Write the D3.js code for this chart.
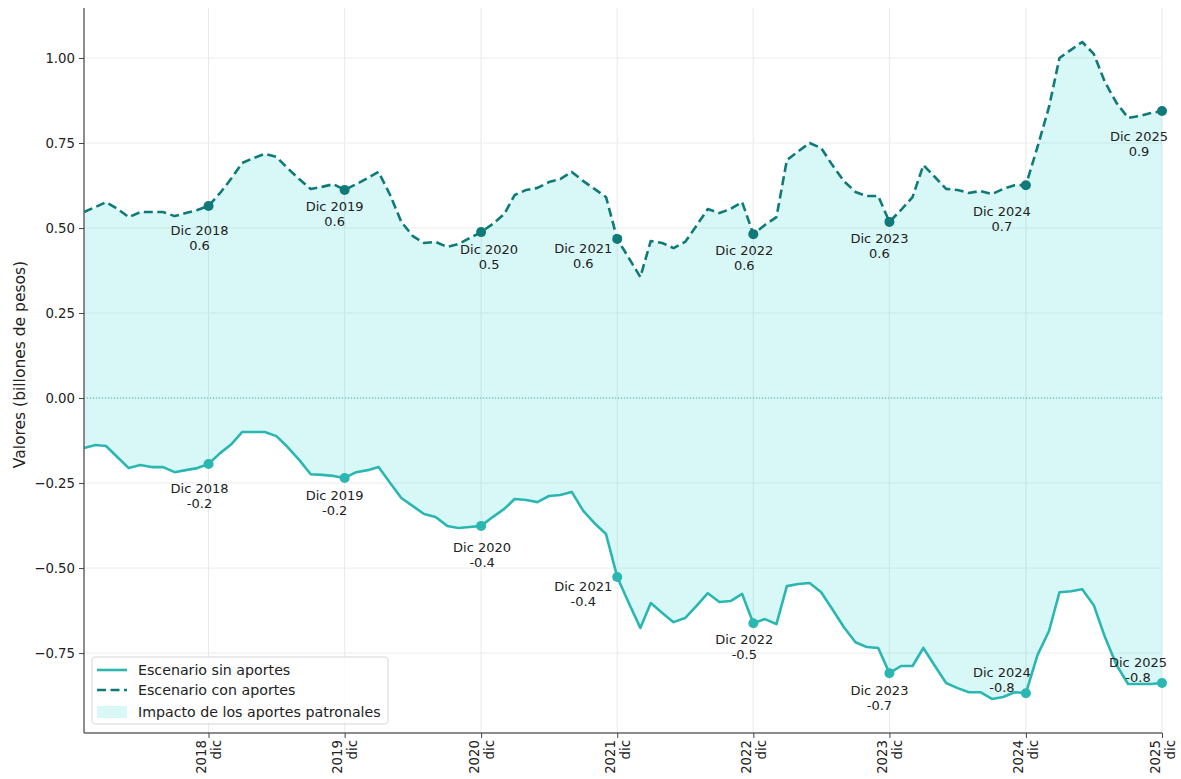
<!DOCTYPE html>
<html>
<head>
<meta charset="utf-8">
<script src="https://cdn.jsdelivr.net/npm/d3@7"></script>
<style>
  html, body { margin: 0; padding: 0; background: #ffffff; }
  svg { display: block; font-family: "DejaVu Sans", sans-serif; }
</style>
</head>
<body>
<svg id="chart" width="1181" height="779"></svg>
<script>
// ---------------- DATA ----------------
const startMonth = new Date(2018, 0, 1);
const endMonth = new Date(2025, 11, 1);
const months = d3.timeMonth.range(startMonth, d3.timeMonth.offset(endMonth, 1)); // Jan 2018 .. Dec 2025

const conAportes = [
  0.547, 0.562, 0.576, 0.556, 0.532, 0.547, 0.547, 0.547, 0.535, 0.544, 0.553, 0.565,
  0.603, 0.647, 0.691, 0.706, 0.718, 0.709, 0.676, 0.644, 0.615, 0.621, 0.629, 0.612,
  0.629, 0.647, 0.665, 0.597, 0.518, 0.476, 0.456, 0.459, 0.444, 0.453, 0.471, 0.488,
  0.512, 0.541, 0.597, 0.612, 0.618, 0.635, 0.644, 0.665, 0.638, 0.615, 0.591, 0.468,
  0.412, 0.356, 0.462, 0.456, 0.441, 0.459, 0.506, 0.556, 0.544, 0.556, 0.576, 0.482,
  0.509, 0.532, 0.700, 0.726, 0.750, 0.735, 0.685, 0.638, 0.606, 0.594, 0.594, 0.518,
  0.553, 0.591, 0.685, 0.650, 0.615, 0.612, 0.603, 0.609, 0.600, 0.615, 0.626, 0.626,
  0.738, 0.856, 1.000, 1.024, 1.047, 1.012, 0.929, 0.868, 0.824, 0.829, 0.838, 0.844
];

const sinAportes = [
  -0.147, -0.138, -0.141, -0.174, -0.206, -0.197, -0.203, -0.203, -0.218, -0.212, -0.206, -0.194,
  -0.162, -0.135, -0.100, -0.100, -0.100, -0.112, -0.144, -0.182, -0.224, -0.226, -0.229, -0.235,
  -0.218, -0.212, -0.203, -0.250, -0.294, -0.318, -0.341, -0.350, -0.376, -0.382, -0.379, -0.376,
  -0.350, -0.326, -0.297, -0.300, -0.306, -0.288, -0.285, -0.276, -0.332, -0.368, -0.400, -0.526,
  -0.603, -0.676, -0.603, -0.632, -0.659, -0.647, -0.612, -0.574, -0.600, -0.597, -0.576, -0.662,
  -0.650, -0.665, -0.553, -0.547, -0.544, -0.571, -0.621, -0.674, -0.718, -0.732, -0.735, -0.809,
  -0.788, -0.788, -0.735, -0.788, -0.838, -0.853, -0.865, -0.865, -0.885, -0.879, -0.865, -0.868,
  -0.756, -0.685, -0.571, -0.568, -0.562, -0.609, -0.703, -0.785, -0.841, -0.841, -0.841, -0.838
];

const annotYears = [2018, 2019, 2020, 2021, 2022, 2023, 2024, 2025];
const conLabels = ["0.6", "0.6", "0.5", "0.6", "0.6", "0.6", "0.7", "0.9"];
const sinLabels = ["-0.2", "-0.2", "-0.4", "-0.4", "-0.5", "-0.7", "-0.8", "-0.8"];

const yTicks = [-0.75, -0.5, -0.25, 0, 0.25, 0.5, 0.75, 1.0];
const xTickYears = [2018, 2019, 2020, 2021, 2022, 2023, 2024, 2025];
const xTickSub = "dic";

const yAxisTitle = "Valores (billones de pesos)";
const legendLabels = ["Escenario sin aportes", "Escenario con aportes", "Impacto de los aportes patronales"];

// ---------------- LAYOUT (not data) ----------------
const conOffsets = [[-9, 24], [-10, 16], [8, 17], [-34, 9], [-9, 16], [-10, 16], [-24, 26], [-23, 25]];
const sinOffsets = [[-9, 24], [-10, 17], [1, 21], [-34, 9], [-9, 16], [-10, 17], [-24, -21], [-24, -21]];

const colSin = "#2bb7b1";
const colCon = "#0f7a77";
const fillCol = "#3cd7d7";

const svg = d3.select("#chart");
const pL = 84, pR = 1162, pT = 8, pB = 733;

const x = d3.scaleTime().domain([startMonth, endMonth]).range([pL, pR]);
const y = d3.scaleLinear().domain([-0.985, 1.147]).range([pB, pT]);

const data = months.map((m, i) => ({ date: m, con: conAportes[i], sin: sinAportes[i] }));

// grid
const tickDates = xTickYears.map(yr => new Date(yr, 11, 1));
svg.append("g").selectAll("line").data(tickDates).join("line")
  .attr("x1", d => x(d)).attr("x2", d => x(d))
  .attr("y1", pT).attr("y2", pB)
  .attr("stroke", "#e9e9e9").attr("stroke-width", 1);
svg.append("g").selectAll("line").data(yTicks).join("line")
  .attr("x1", pL).attr("x2", pR)
  .attr("y1", d => y(d)).attr("y2", d => y(d))
  .attr("stroke", "#ececec").attr("stroke-width", 1);

// fill between
const area = d3.area().x(d => x(d.date)).y0(d => y(d.sin)).y1(d => y(d.con));
svg.append("path").datum(data).attr("d", area)
  .attr("fill", fillCol).attr("fill-opacity", 0.2);

// zero line
svg.append("line")
  .attr("x1", pL).attr("x2", pR).attr("y1", y(0)).attr("y2", y(0))
  .attr("stroke", "#2a9d9a").attr("stroke-width", 0.8).attr("stroke-dasharray", "1,2");

// lines
const lineSin = d3.line().x(d => x(d.date)).y(d => y(d.sin));
const lineCon = d3.line().x(d => x(d.date)).y(d => y(d.con));
svg.append("path").datum(data).attr("d", lineSin)
  .attr("fill", "none").attr("stroke", colSin).attr("stroke-width", 2.6)
  .attr("stroke-linejoin", "round");
svg.append("path").datum(data).attr("d", lineCon)
  .attr("fill", "none").attr("stroke", colCon).attr("stroke-width", 2.6)
  .attr("stroke-dasharray", "9,4.5").attr("stroke-linejoin", "round");

// markers and annotations
const decPoints = annotYears.map(yr => data.find(d => d.date.getFullYear() === yr && d.date.getMonth() === 11));

svg.append("g").selectAll("circle").data(decPoints).join("circle")
  .attr("cx", d => x(d.date)).attr("cy", d => y(d.sin)).attr("r", 5).attr("fill", colSin);
svg.append("g").selectAll("circle").data(decPoints).join("circle")
  .attr("cx", d => x(d.date)).attr("cy", d => y(d.con)).attr("r", 5).attr("fill", colCon);

function annotate(points, key, labels, offsets) {
  const g = svg.append("g").attr("font-size", "13px").attr("fill", "#222").attr("text-anchor", "middle");
  points.forEach((p, i) => {
    const cx = x(p.date) + offsets[i][0];
    const cy = y(p[key]) + offsets[i][1];
    const t = g.append("text").attr("x", cx).attr("y", cy).attr("dominant-baseline", "central");
    t.append("tspan").attr("x", cx).attr("dy", 0).text("Dic " + annotYears[i]);
    t.append("tspan").attr("x", cx).attr("dy", 15).text(labels[i]);
  });
}
annotate(decPoints, "con", conLabels, conOffsets);
annotate(decPoints, "sin", sinLabels, sinOffsets);

// axes
const yAxis = d3.axisLeft(y).tickValues(yTicks).tickSize(5).tickPadding(4)
  .tickFormat(d => d3.format(".2f")(d).replace("-", "\u2212"));
const gy = svg.append("g").attr("transform", `translate(${pL},0)`).call(yAxis);
gy.select(".domain").attr("stroke", "#666").attr("stroke-width", 1.5).attr("d", `M0,${pT}V${pB}`);
gy.selectAll(".tick line").attr("stroke", "#444");
gy.selectAll(".tick text").attr("font-size", "13.3px").attr("fill", "#222").attr("font-family", "DejaVu Sans, sans-serif");

const xAxis = d3.axisBottom(x).tickValues(tickDates).tickSize(5).tickFormat("");
const gx = svg.append("g").attr("transform", `translate(0,${pB})`).call(xAxis);
gx.select(".domain").attr("stroke", "#666").attr("stroke-width", 1.5).attr("d", `M${pL},0H${pR}`);
gx.selectAll(".tick line").attr("stroke", "#444");
gx.selectAll(".tick").each(function(d, i) {
  const t = d3.select(this).append("text")
    .attr("transform", "translate(0,7) rotate(-90)")
    .attr("text-anchor", "end").attr("font-size", "13.3px").attr("fill", "#222")
    .attr("font-family", "DejaVu Sans, sans-serif");
  t.append("tspan").attr("x", 0).attr("y", -3).text(xTickYears[i]);
  t.append("tspan").attr("x", 0).attr("y", 12).text(xTickSub);
});

// y axis title
svg.append("text")
  .attr("transform", `translate(25,${(pT + pB) / 2 - 6}) rotate(-90)`)
  .attr("text-anchor", "middle").attr("font-size", "15.5px").attr("fill", "#222")
  .text(yAxisTitle);

// legend
const lg = svg.append("g").attr("transform", "translate(92,657)");
lg.append("rect").attr("width", 296).attr("height", 67).attr("rx", 3)
  .attr("fill", "#fff").attr("fill-opacity", 0.85).attr("stroke", "#d5d5d5").attr("stroke-width", 1);
const rows = [13, 33, 55];
lg.append("line").attr("x1", 5).attr("x2", 35).attr("y1", rows[0]).attr("y2", rows[0])
  .attr("stroke", colSin).attr("stroke-width", 2.6);
lg.append("line").attr("x1", 5).attr("x2", 35).attr("y1", rows[1]).attr("y2", rows[1])
  .attr("stroke", colCon).attr("stroke-width", 2.6).attr("stroke-dasharray", "9,4.5");
lg.append("rect").attr("x", 5).attr("y", rows[2] - 6).attr("width", 30).attr("height", 12)
  .attr("fill", fillCol).attr("fill-opacity", 0.2);
lg.selectAll("text.lt").data(legendLabels).join("text").attr("class", "lt")
  .attr("x", 46).attr("y", (d, i) => rows[i]).attr("dominant-baseline", "central")
  .attr("font-size", "14.2px").attr("fill", "#222").text(d => d);
</script>
</body>
</html>
